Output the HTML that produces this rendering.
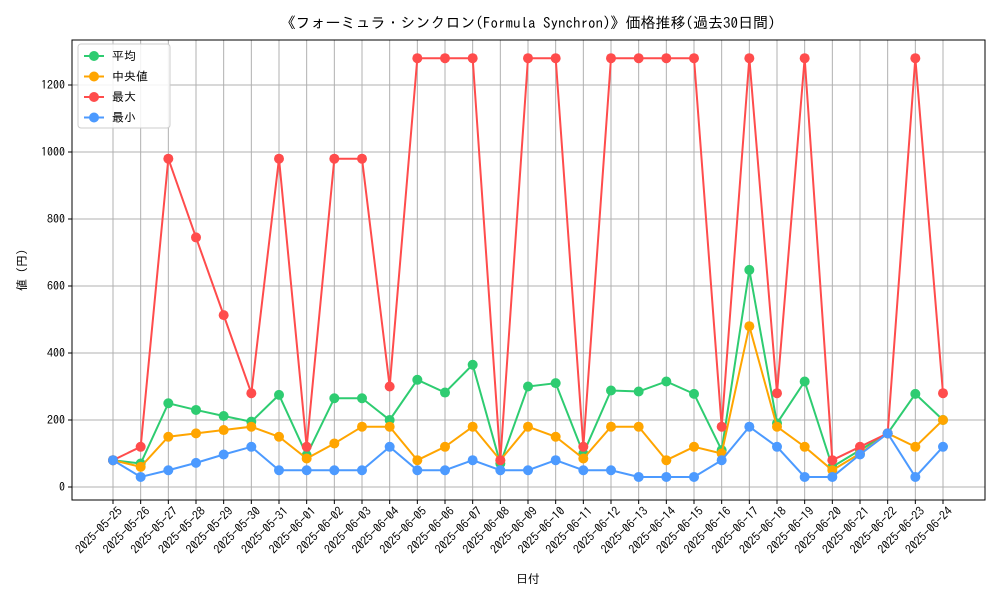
<!DOCTYPE html>
<html><head><meta charset="utf-8">
<style>
body{margin:0;background:#fff;font-family:"IPAGothic","Noto Sans CJK JP",sans-serif;}
svg text{font-family:"IPAGothic","Noto Sans CJK JP",sans-serif;}
</style></head>
<body>
<svg id="chart" width="1000" height="600" xmlns="http://www.w3.org/2000/svg">
<rect width="1000" height="600" fill="#fff"/>
<text x="528" y="28" font-size="15" text-anchor="middle">《フォーミュラ・シンクロン(Formula Synchron)》価格推移(過去30日間)</text>
<g id="grid"></g>
<rect x="72" y="40" width="913" height="460" fill="none" stroke="#000" stroke-width="1"/>
<g id="axes"></g>
<g id="series"></g>
<text x="528" y="583" font-size="12" text-anchor="middle">日付</text>
<text transform="translate(26,270) rotate(-90)" font-size="12" text-anchor="middle">値 (円)</text>
<g id="legend"></g>
</svg>
<script>
const dates=["2025-05-25","2025-05-26","2025-05-27","2025-05-28","2025-05-29","2025-05-30","2025-05-31","2025-06-01","2025-06-02","2025-06-03","2025-06-04","2025-06-05","2025-06-06","2025-06-07","2025-06-08","2025-06-09","2025-06-10","2025-06-11","2025-06-12","2025-06-13","2025-06-14","2025-06-15","2025-06-16","2025-06-17","2025-06-18","2025-06-19","2025-06-20","2025-06-21","2025-06-22","2025-06-23","2025-06-24"];
const avgVals=[80,70,250,230,212,195,275,95,265,265,200,320,282,365,70,300,310,100,288,285,315,278,110,648,190,315,60,110,160,278,200];
const medianVals=[80,60,150,160,170,180,150,85,130,180,180,80,120,180,80,180,150,85,180,180,80,120,100,480,180,120,50,100,160,120,200];
const maxVals=[80,120,980,745,513,280,980,120,980,980,300,1280,1280,1280,80,1280,1280,120,1280,1280,1280,1280,180,1280,280,1280,80,120,160,1280,280];
const minVals=[80,30,50,72,97,120,50,50,50,50,120,50,50,80,50,50,80,50,50,30,30,30,80,180,120,30,30,97,160,30,120];
const yTicks=[0,200,400,600,800,1000,1200];
const seriesNames=["平均","中央値","最大","最小"];

const NS="http://www.w3.org/2000/svg";
const x=i=>113+i*(943-113)/(dates.length-1);
const y=v=>487-v*(487-85)/1200;
function mk(t,a,p){const e=document.createElementNS(NS,t);for(const k in a)e.setAttribute(k,a[k]);p.appendChild(e);return e;}
const grid=document.getElementById('grid'),axes=document.getElementById('axes'),ser=document.getElementById('series'),leg=document.getElementById('legend');
dates.forEach((d,i)=>{
  const g=mk('line',{x1:x(i),x2:x(i),y1:40,y2:500,stroke:'#b0b0b0','stroke-width':1},grid);
  
  
  const t=mk('line',{x1:x(i),x2:x(i),y1:500,y2:504,stroke:'#000'},axes);
  
  
  const l=mk('text',{x:x(i)+4,y:506,'font-size':12,'text-anchor':'end',transform:`rotate(-45 ${x(i)+4} 506)`,dy:'0.7em'},axes);
  l.textContent=d;
  
  
});
yTicks.forEach(v=>{
  const g=mk('line',{x1:72,x2:985,y1:y(v),y2:y(v),stroke:'#b0b0b0','stroke-width':1},grid);
  
  
  const t=mk('line',{x1:68,x2:72,y1:y(v),y2:y(v),stroke:'#000'},axes);
  
  
  const l=mk('text',{x:65,y:y(v)+4,'font-size':12,'text-anchor':'end'},axes);
  l.textContent=v;
  
  
});
const all=[[avgVals,'#2ecc71'],[medianVals,'#ffa500'],[maxVals,'#ff4c4c'],[minVals,'#4c9aff']];
const keys=['average','median','max','min'];
all.forEach(([vals,c],k)=>{
  const g=mk('g',{},ser);
  
  
  const pl=mk('polyline',{points:vals.map((v,i)=>x(i)+','+y(v)).join(' '),fill:'none',stroke:c,'stroke-width':2},g);
  
  
  vals.forEach((v,i)=>{
    const p=mk('circle',{cx:x(i),cy:y(v),r:5,fill:c},g);
    
    
  });
});
mk('rect',{x:78,y:44,width:92,height:84,rx:3,fill:'#fff','fill-opacity':0.85,stroke:'#ccc'},leg);
all.forEach(([v,c],k)=>{
  const yy=56+k*20.5;
  const e=mk('g',{},leg);
  
  
  mk('line',{x1:84,x2:104,y1:yy,y2:yy,stroke:c,'stroke-width':2},e);
  mk('circle',{cx:94,cy:yy,r:5,fill:c},e);
  const t=mk('text',{x:112,y:yy+4,'font-size':12},e);
  t.textContent=seriesNames[k];
});
</script>
</body></html>
